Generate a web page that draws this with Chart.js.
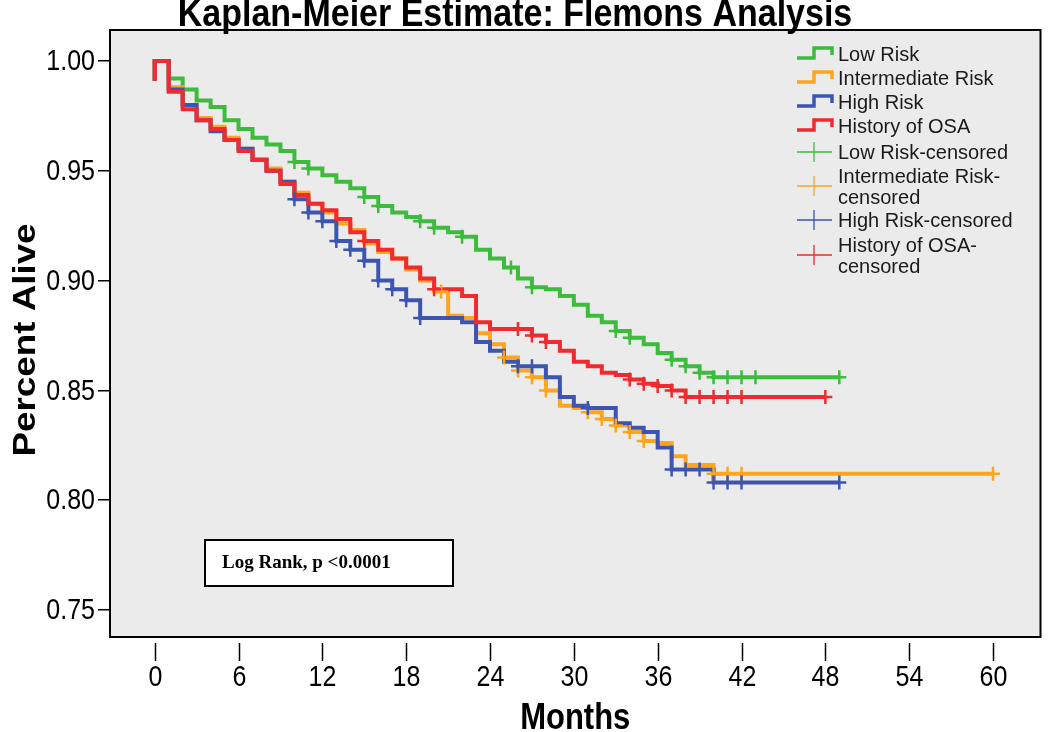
<!DOCTYPE html>
<html>
<head>
<meta charset="utf-8">
<script src="https://cdn.jsdelivr.net/npm/chart.js@4.4.0/dist/chart.umd.min.js"></script>
<style>
  html, body { margin: 0; padding: 0; background: #fff; }
  #wrap { width: 1050px; height: 732px; }
</style>
</head>
<body>
<div id="wrap"><canvas id="km" width="1050" height="732"></canvas></div>
<script>
// curvas de sobrevida (tempo em meses, valor a partir daquele tempo)
const lowTimes = [0, 0, 1, 2, 3, 4, 5, 6, 7, 8, 9, 10, 11, 12, 13, 14, 15, 16, 17, 18, 19, 20, 21, 22, 23, 24, 25, 26, 27, 28, 29, 30, 31, 32, 33, 34, 35, 36, 37, 38, 39, 40, 49];
const lowSurv = [0.991, 1.000, 0.992, 0.987, 0.982, 0.979, 0.973, 0.969, 0.965, 0.962, 0.959, 0.954, 0.951, 0.948, 0.945, 0.942, 0.938, 0.934, 0.931, 0.929, 0.927, 0.924, 0.922, 0.920, 0.914, 0.910, 0.906, 0.901, 0.897, 0.896, 0.893, 0.889, 0.884, 0.881, 0.877, 0.874, 0.871, 0.867, 0.864, 0.861, 0.858, 0.856, 0.856];

const interTimes = [0, 0, 1, 2, 3, 4, 5, 6, 7, 8, 9, 10, 11, 12, 13, 14, 15, 16, 17, 18, 19, 20, 21, 22, 23, 24, 25, 26, 27, 28, 29, 30, 31, 32, 33, 34, 35, 36, 37, 38, 40, 60];
const interSurv = [0.991, 1.000, 0.988, 0.980, 0.974, 0.970, 0.965, 0.960, 0.955, 0.951, 0.945, 0.940, 0.935, 0.931, 0.926, 0.923, 0.917, 0.913, 0.910, 0.905, 0.900, 0.895, 0.884, 0.883, 0.876, 0.871, 0.865, 0.859, 0.856, 0.850, 0.843, 0.842, 0.840, 0.837, 0.834, 0.831, 0.827, 0.826, 0.820, 0.816, 0.812, 0.812];

const highTimes = [0, 0, 1, 2, 3, 4, 5, 6, 7, 8, 9, 10, 11, 12, 13, 14, 15, 16, 17, 18, 19, 22, 23, 24, 25, 26, 28, 29, 30, 31, 33, 34, 35, 36, 37, 40, 49];
const highSurv = [0.991, 1.000, 0.987, 0.980, 0.973, 0.968, 0.964, 0.960, 0.955, 0.950, 0.945, 0.937, 0.931, 0.927, 0.918, 0.914, 0.909, 0.900, 0.896, 0.891, 0.883, 0.881, 0.872, 0.868, 0.863, 0.861, 0.856, 0.847, 0.843, 0.842, 0.835, 0.833, 0.831, 0.824, 0.814, 0.808, 0.808];

const osaTimes = [0, 0, 1, 2, 3, 4, 5, 6, 7, 8, 9, 10, 11, 12, 13, 14, 15, 16, 17, 18, 19, 20, 22, 23, 24, 27, 28, 29, 30, 31, 32, 33, 34, 35, 36, 37, 38, 48];
const osaSurv = [0.991, 1.000, 0.986, 0.978, 0.973, 0.969, 0.964, 0.959, 0.955, 0.950, 0.944, 0.939, 0.935, 0.932, 0.928, 0.922, 0.918, 0.914, 0.910, 0.906, 0.901, 0.896, 0.893, 0.881, 0.878, 0.875, 0.872, 0.868, 0.863, 0.861, 0.858, 0.857, 0.855, 0.853, 0.852, 0.850, 0.847, 0.847];

// tempos censurados
const lowCens = [10, 11, 15, 16, 19, 20, 22, 25.5, 27, 33, 34, 37, 38, 39, 40, 41, 42, 43, 49];
const interCens = [20.5, 25, 26, 27, 28, 31, 32, 33, 34, 35, 40, 41, 42, 60];
const highCens = [10, 11, 12, 13, 14, 15, 16, 17, 18, 19, 26, 27, 31, 37, 38, 39, 40, 41, 42, 49];
const osaCens = [15, 20, 26, 27, 28, 34, 35, 36, 37, 38, 39, 40, 41, 42, 48];

const groupNames = ['Low Risk', 'Intermediate Risk', 'High Risk', 'History of OSA'];
const censNames = [['Low Risk-censored'], ['Intermediate Risk-', 'censored'], ['High Risk-censored'], ['History of OSA-', 'censored']];
const groupColors = ['#3dbb3d', '#fda51e', '#3c55b2', '#f02a2e'];

const monthTicks = [0, 6, 12, 18, 24, 30, 36, 42, 48, 54, 60];
const survTicks = [0.75, 0.80, 0.85, 0.90, 0.95, 1.00];

const FONTE = '"Liberation Sans", Arial, sans-serif';
const ESTICA = 1.2; // o original parece esticado na vertical

function passos(tempos, sobrev) {
  return tempos.map((t, i) => ({ x: t, y: sobrev[i] }));
}

function valorEm(tempos, sobrev, t) {
  let v = sobrev[0];
  for (let i = 0; i < tempos.length; i++) {
    if (tempos[i] <= t) v = sobrev[i];
  }
  return v;
}

function texto(ctx, s, x, y, sx, sy) {
  ctx.save();
  ctx.translate(x, y);
  ctx.scale(sx, sy);
  ctx.fillText(s, 0, 0);
  ctx.restore();
}

const curvas = [
  [lowTimes, lowSurv, lowCens],
  [interTimes, interSurv, interCens],
  [highTimes, highSurv, highCens],
  [osaTimes, osaSurv, osaCens]
];

const datasets = [];
curvas.forEach((c, i) => {
  datasets.push({
    label: groupNames[i],
    data: passos(c[0], c[1]),
    stepped: 'before',
    borderColor: groupColors[i],
    borderWidth: 4,
    pointRadius: 0,
    fill: false,
    order: 10 - i
  });
});
curvas.forEach((c, i) => {
  datasets.push({
    label: censNames[i].join(''),
    data: c[2].map(t => ({ x: t, y: valorEm(c[0], c[1], t) })),
    showLine: false,
    pointStyle: 'cross',
    pointRadius: 7,
    pointBorderWidth: 2.5,
    pointBorderColor: groupColors[i],
    pointBackgroundColor: groupColors[i],
    borderColor: groupColors[i],
    order: 4 - i
  });
});

const enfeites = {
  id: 'enfeites',
  beforeDraw(chart) {
    const { ctx, chartArea: a } = chart;
    ctx.save();
    ctx.fillStyle = '#ffffff';
    ctx.fillRect(0, 0, chart.width, chart.height);
    ctx.fillStyle = '#ebebeb';
    ctx.fillRect(a.left, a.top, a.right - a.left, a.bottom - a.top);
    ctx.restore();
  },
  afterDraw(chart) {
    const { ctx, chartArea: a } = chart;
    const x = chart.scales.x;
    const y = chart.scales.y;
    ctx.save();

    // moldura
    ctx.strokeStyle = '#000';
    ctx.lineWidth = 2;
    ctx.strokeRect(a.left, a.top, a.right - a.left, a.bottom - a.top);

    // marcas e rotulos do eixo x
    ctx.lineWidth = 1.5;
    ctx.fillStyle = '#000';
    ctx.font = '25px ' + FONTE;
    ctx.textAlign = 'center';
    ctx.textBaseline = 'alphabetic';
    monthTicks.forEach(m => {
      const px = Math.round(x.getPixelForValue(m)) + 0.5;
      ctx.beginPath();
      ctx.moveTo(px, a.bottom + 6);
      ctx.lineTo(px, a.bottom + 24);
      ctx.stroke();
      texto(ctx, String(m), px, 686, 1, ESTICA);
    });

    // rotulos do eixo y
    ctx.textAlign = 'right';
    ctx.textBaseline = 'middle';
    survTicks.forEach(v => {
      texto(ctx, v.toFixed(2), 95, y.getPixelForValue(v) + 1, 1, ESTICA);
    });

    // titulo
    ctx.textAlign = 'center';
    ctx.textBaseline = 'alphabetic';
    ctx.font = 'bold 34px ' + FONTE;
    texto(ctx, 'Kaplan-Meier Estimate: Flemons Analysis', 515, 26, 1, 1.15);

    // titulos dos eixos
    ctx.font = 'bold 31px ' + FONTE;
    texto(ctx, 'Months', (a.left + a.right) / 2, 729, 1, ESTICA);
    ctx.save();
    ctx.translate(35, 340);
    ctx.rotate(-Math.PI / 2);
    ctx.font = 'bold 32px ' + FONTE;
    texto(ctx, 'Percent Alive', 0, 0, 1.15, 1);
    ctx.restore();

    // legenda
    const lx = 797;
    ctx.font = '20px ' + FONTE;
    ctx.textAlign = 'left';
    ctx.textBaseline = 'middle';
    const linhasGrupo = [54, 78, 102, 126];
    groupNames.forEach((n, i) => {
      const yy = linhasGrupo[i];
      ctx.strokeStyle = groupColors[i];
      ctx.lineWidth = 3.5;
      ctx.beginPath();
      ctx.moveTo(lx, yy + 4);
      ctx.lineTo(lx + 17, yy + 4);
      ctx.lineTo(lx + 17, yy - 6);
      ctx.lineTo(lx + 35, yy - 6);
      ctx.lineTo(lx + 35, yy + 1);
      ctx.stroke();
      ctx.fillStyle = '#1a1a1a';
      ctx.fillText(n, lx + 41, yy + 1);
    });
    const linhasCens = [152, 176, 220, 245];
    censNames.forEach((partes, i) => {
      const yy = linhasCens[i];
      const yc = partes.length > 1 ? yy + 10 : yy;
      ctx.strokeStyle = groupColors[i];
      ctx.lineWidth = 1.3;
      ctx.beginPath();
      ctx.moveTo(lx, yc);
      ctx.lineTo(lx + 35, yc);
      ctx.moveTo(lx + 17, yc - 10);
      ctx.lineTo(lx + 17, yc + 10);
      ctx.stroke();
      ctx.fillStyle = '#1a1a1a';
      partes.forEach((p, k) => ctx.fillText(p, lx + 41, yy + 1 + k * 21));
    });

    // caixa do log rank
    ctx.fillStyle = '#fff';
    ctx.fillRect(205, 540, 248, 46);
    ctx.strokeStyle = '#000';
    ctx.lineWidth = 2;
    ctx.strokeRect(205, 540, 248, 46);
    ctx.fillStyle = '#000';
    ctx.font = 'bold 19px "Liberation Serif", "Times New Roman", serif';
    ctx.fillText('Log Rank, p <0.0001', 222, 563);

    ctx.restore();
  }
};

const ctx = document.getElementById('km').getContext('2d');
const grafico = new Chart(ctx, {
  type: 'line',
  data: { datasets: datasets },
  options: {
    responsive: false,
    animation: false,
    devicePixelRatio: 1,
    layout: { padding: { top: 30, right: 8, left: 0, bottom: 0 } },
    plugins: {
      legend: { display: false },
      tooltip: { enabled: false },
      title: { display: false }
    },
    scales: {
      x: {
        type: 'linear',
        min: -3.2,
        max: 63.4,
        afterBuildTicks: s => { s.ticks = monthTicks.map(v => ({ value: v })); },
        afterFit: s => { s.height = 95; },
        grid: { display: false },
        border: { display: false },
        ticks: { display: false }
      },
      y: {
        type: 'linear',
        min: 0.7377,
        max: 1.0141,
        afterBuildTicks: s => { s.ticks = survTicks.map(v => ({ value: v })); },
        afterFit: s => { s.width = 110; },
        grid: { drawOnChartArea: false, tickLength: 12, color: '#000', lineWidth: 1.5 },
        border: { display: false },
        ticks: { display: false }
      }
    }
  },
  plugins: [enfeites]
});
</script>
</body>
</html>
